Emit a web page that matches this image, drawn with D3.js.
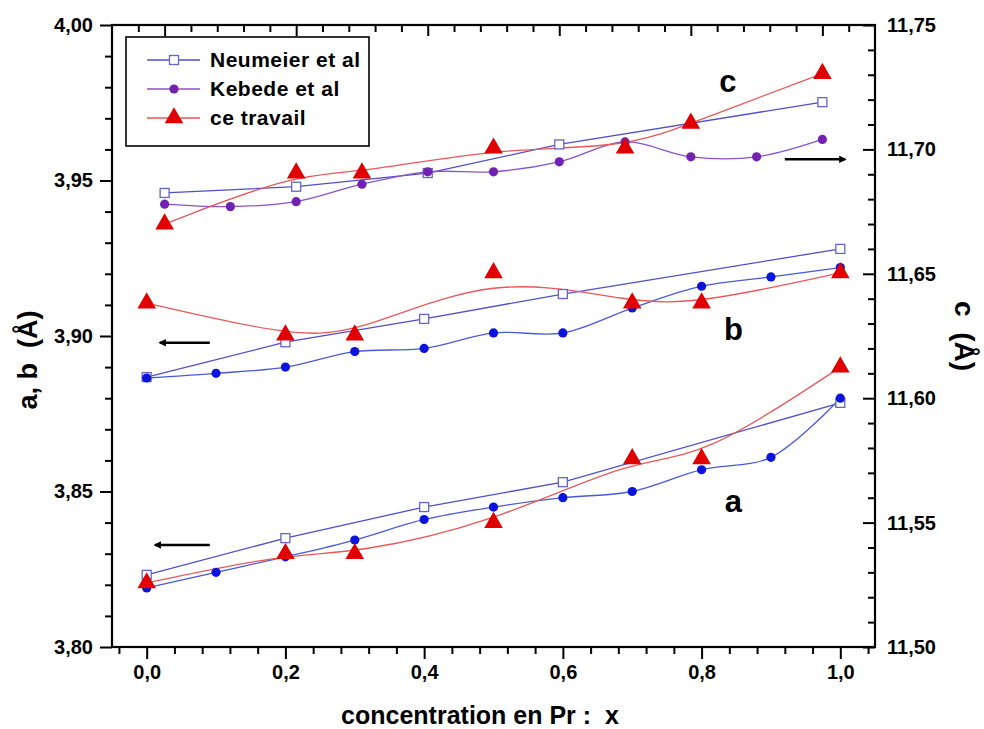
<!DOCTYPE html>
<html>
<head>
<meta charset="utf-8">
<script src="https://cdn.jsdelivr.net/npm/d3@7"></script>
<style>
    body { margin: 0; background: #fff; }
    svg { display: block; font-family: "Liberation Sans", Arial, sans-serif; font-weight: bold; }
    .title { white-space: pre; }
</style>
</head>
<body>
<div id="chart"></div>
<script>
// x values (concentration en Pr)
const xNeumeier = [0, 0.2, 0.4, 0.6, 1.0];
const xKebede = [0, 0.1, 0.2, 0.3, 0.4, 0.5, 0.6, 0.7, 0.8, 0.9, 1.0];
const xTravail = [0, 0.2, 0.3, 0.5, 0.7, 0.8, 1.0];

// a and b (left axis, A)
const aNeumeier = [3.8232, 3.835, 3.845, 3.853, 3.8785];
const bNeumeier = [3.8868, 3.898, 3.9055, 3.9135, 3.928];
const aKebede = [3.819, 3.824, 3.829, 3.8344, 3.841, 3.845, 3.848, 3.850, 3.857, 3.861, 3.880];
const bKebede = [3.8865, 3.888, 3.890, 3.895, 3.896, 3.901, 3.901, 3.909, 3.916, 3.919, 3.922];
const aTravail = [3.8206, 3.830, 3.830, 3.840, 3.8605, 3.8605, 3.890];
const bTravail = [3.9106, 3.9003, 3.9003, 3.9203, 3.9106, 3.9106, 3.9203];

// c (right axis, plotted against the top axis)
const cNeumeier = [11.6825, 11.685, 11.6905, 11.702, 11.719];
const cKebede = [11.678, 11.677, 11.679, 11.686, 11.691, 11.691, 11.695, 11.703, 11.697, 11.697, 11.704];
const cTravail = [11.670, 11.6905, 11.6905, 11.7005, 11.7005, 11.7105, 11.7305];

const seriesNames = ['Neumeier et al', 'Kebede et al', 'ce travail'];

document.addEventListener('DOMContentLoaded', () => {
    const fullWidth = 984
    const fullHeight = 729
    const marginLeft = 112
    const marginTop = 25
    const width = 763
    const height = 622

    const fmt = d3.formatLocale({decimal: ',', thousands: '.', grouping: [3], currency: ['', '']});

    const svg = d3.select('#chart')
        .append('svg')
        .attr('width', fullWidth)
        .attr('height', fullHeight);
    const g = svg.append('g')
        .attr('transform', `translate(${marginLeft}, ${marginTop})`);

    const x = d3.scaleLinear().domain([-0.05, 1.05]).range([0, width]);
    const xTop = d3.scaleLinear().domain([-0.08, 1.08]).range([0, width]);
    const yLeft = d3.scaleLinear().domain([3.80, 4.00]).range([height, 0]);
    const yRight = d3.scaleLinear().domain([11.50, 11.75]).range([height, 0]);

    const majorX = d3.range(0, 6).map(i => i * 0.2);
    const minorX = d3.range(-1, 27).map(i => +(i * 0.04).toFixed(2)).filter(v => Math.abs(v / 0.2 - Math.round(v / 0.2)) > 1e-6);
    const majorL = d3.range(0, 5).map(i => 3.80 + i * 0.05);
    const minorL = d3.range(0, 21).map(i => 3.80 + i * 0.01).filter((v, i) => i % 5 !== 0);
    const majorR = d3.range(0, 6).map(i => 11.50 + i * 0.05);
    const minorR = d3.range(0, 26).map(i => 11.50 + i * 0.01).filter((v, i) => i % 5 !== 0);

    // Axes
    const axisStyle = sel => {
        sel.attr('font-family', null);
        sel.select('.domain').remove();
        sel.selectAll('line').attr('stroke', '#000').attr('stroke-width', 2);
        sel.selectAll('text').attr('fill', '#000').style('font-size', '20px').style('font-weight', 'bold');
    };
    g.append('g').attr('transform', `translate(0, ${height})`)
        .call(d3.axisBottom(x).tickValues(majorX).tickSize(12).tickPadding(6).tickFormat(fmt.format('.1f')))
        .call(axisStyle);
    g.append('g').attr('transform', `translate(0, ${height})`)
        .call(d3.axisBottom(x).tickValues(minorX).tickSize(7).tickFormat(''))
        .call(axisStyle);
    g.append('g')
        .call(d3.axisTop(xTop).tickValues(majorX).tickSize(-11).tickFormat(''))
        .call(axisStyle);
    g.append('g')
        .call(d3.axisTop(xTop).tickValues(minorX).tickSize(-7).tickFormat(''))
        .call(axisStyle);
    g.append('g')
        .call(d3.axisLeft(yLeft).tickValues(majorL).tickSize(12).tickPadding(7).tickFormat(fmt.format('.2f')))
        .call(axisStyle);
    g.append('g')
        .call(d3.axisLeft(yLeft).tickValues(minorL).tickSize(7).tickFormat(''))
        .call(axisStyle);
    g.append('g').attr('transform', `translate(${width}, 0)`)
        .call(d3.axisRight(yRight).tickValues(majorR).tickSize(-12).tickPadding(12).tickFormat(fmt.format('.2f')))
        .call(axisStyle);
    g.append('g').attr('transform', `translate(${width}, 0)`)
        .call(d3.axisRight(yRight).tickValues(minorR).tickSize(-7).tickFormat(''))
        .call(axisStyle);

    // Frame
    g.append('rect')
        .attr('width', width)
        .attr('height', height)
        .attr('fill', 'none')
        .attr('stroke', '#000')
        .attr('stroke-width', 2.2);

    // Axis titles
    g.append('text')
        .attr('class', 'title')
        .attr('x', 368)
        .attr('y', height + 77)
        .attr('text-anchor', 'middle')
        .style('font-size', '25px')
        .text('concentration en Pr :  x');
    g.append('text')
        .attr('class', 'title')
        .attr('transform', `translate(-75, ${height / 2 + 24}) rotate(-90)`)
        .attr('text-anchor', 'middle')
        .style('font-size', '27px')
        .text('a, b  (Å)');
    g.append('text')
        .attr('class', 'title')
        .attr('transform', `translate(${width + 80}, ${height / 2}) rotate(90)`)
        .attr('text-anchor', 'middle')
        .style('font-size', '28px')
        .text('c  (Å)');

    // Series
    const colours = {
        neuLine: '#4f4fc8', neuMark: '#6464cc',
        kebLine: '#4a5ad6', kebMark: '#0a14dc',
        kebCLine: '#8a52c8', kebCMark: '#7222b0',
        travLine: '#e8585a', travMark: '#e00000'
    };

    const zip = (xs, ys) => xs.map((v, i) => [v, ys[i]]);
    const series = [
        {data: zip(xNeumeier, aNeumeier), sx: x, sy: yLeft, curve: d3.curveLinear, line: colours.neuLine, mark: colours.neuMark, shape: 'square'},
        {data: zip(xNeumeier, bNeumeier), sx: x, sy: yLeft, curve: d3.curveLinear, line: colours.neuLine, mark: colours.neuMark, shape: 'square'},
        {data: zip(xNeumeier, cNeumeier), sx: xTop, sy: yRight, curve: d3.curveLinear, line: colours.neuLine, mark: colours.neuMark, shape: 'square'},
        {data: zip(xKebede, aKebede), sx: x, sy: yLeft, curve: d3.curveCatmullRom, line: colours.kebLine, mark: colours.kebMark, shape: 'dot'},
        {data: zip(xKebede, bKebede), sx: x, sy: yLeft, curve: d3.curveCatmullRom, line: colours.kebLine, mark: colours.kebMark, shape: 'dot'},
        {data: zip(xKebede, cKebede), sx: xTop, sy: yRight, curve: d3.curveCatmullRom, line: colours.kebCLine, mark: colours.kebCMark, shape: 'dot'},
        {data: zip(xTravail, aTravail), sx: x, sy: yLeft, curve: d3.curveBasis, line: colours.travLine, mark: colours.travMark, shape: 'triangle'},
        {data: zip(xTravail, bTravail), sx: x, sy: yLeft, curve: d3.curveBasis, line: colours.travLine, mark: colours.travMark, shape: 'triangle'},
        {data: zip(xTravail, cTravail), sx: xTop, sy: yRight, curve: d3.curveBasis, line: colours.travLine, mark: colours.travMark, shape: 'triangle'}
    ];

    const lines = g.append('g');
    for (const s of series) {
        lines.append('path')
            .datum(s.data)
            .attr('fill', 'none')
            .attr('stroke', s.line)
            .attr('stroke-width', 1.3)
            .attr('d', d3.line().x(d => s.sx(d[0])).y(d => s.sy(d[1])).curve(s.curve));
    }

    function drawMarker(sel, shape, colour) {
        if (shape === 'square') {
            sel.append('rect').attr('x', -4.5).attr('y', -4.5).attr('width', 9).attr('height', 9)
                .attr('fill', '#fff').attr('stroke', colour).attr('stroke-width', 1.3);
        } else if (shape === 'dot') {
            sel.append('circle').attr('r', 4.6).attr('fill', colour);
        } else {
            sel.append('path').attr('d', d3.symbol(d3.symbolTriangle, 150)()).attr('fill', colour);
        }
    }

    const marks = g.append('g');
    for (const s of series) {
        marks.append('g')
            .selectAll('g')
            .data(s.data)
            .enter()
            .append('g')
            .attr('transform', d => `translate(${s.sx(d[0])}, ${s.sy(d[1])})`)
            .each(function () { drawMarker(d3.select(this), s.shape, s.mark); });
    }

    // Curve labels
    const labels = [['c', 0.838, yLeft(3.9817)], ['b', 0.846, yLeft(3.902)], ['a', 0.846, yLeft(3.8467)]];
    g.selectAll('.curveLabel')
        .data(labels)
        .enter()
        .append('text')
        .attr('class', 'curveLabel')
        .attr('x', d => x(d[1]))
        .attr('y', d => d[2])
        .attr('text-anchor', 'middle')
        .attr('dominant-baseline', 'central')
        .style('font-size', '31px')
        .text(d => d[0]);

    // Arrows showing which axis each group uses
    svg.append('defs').append('marker')
        .attr('id', 'head')
        .attr('viewBox', '0 0 10 10')
        .attr('refX', 8).attr('refY', 5)
        .attr('markerWidth', 4).attr('markerHeight', 3)
        .attr('orient', 'auto')
        .append('path').attr('d', 'M0,0 L10,5 L0,10 z').attr('fill', '#000');
    const arrows = [
        [x(0.091), yLeft(3.8978), x(0.019), yLeft(3.8978)],
        [x(0.091), yLeft(3.8328), x(0.012), yLeft(3.8328)],
        [x(0.92), yRight(11.696), x(1.007), yRight(11.696)]
    ];
    g.selectAll('.arrow')
        .data(arrows)
        .enter()
        .append('line')
        .attr('class', 'arrow')
        .attr('x1', d => d[0]).attr('y1', d => d[1])
        .attr('x2', d => d[2]).attr('y2', d => d[3])
        .attr('stroke', '#000')
        .attr('stroke-width', 2.5)
        .attr('marker-end', 'url(#head)');

    // Legend
    const legend = svg.append('g').attr('transform', 'translate(126, 37)');
    legend.append('rect')
        .attr('width', 243).attr('height', 109)
        .attr('fill', '#fff').attr('stroke', '#000').attr('stroke-width', 1.6);
    const legendItems = [
        {shape: 'square', line: colours.neuLine, mark: colours.neuMark},
        {shape: 'dot', line: colours.kebCLine, mark: colours.kebCMark},
        {shape: 'triangle', line: colours.travLine, mark: colours.travMark}
    ];
    const rows = legend.selectAll('.row')
        .data(legendItems)
        .enter()
        .append('g')
        .attr('class', 'row')
        .attr('transform', (d, i) => `translate(0, ${23 + i * 29})`);
    rows.append('line')
        .attr('x1', 21).attr('x2', 74)
        .attr('stroke', d => d.line).attr('stroke-width', 1.3);
    rows.each(function (d) {
        const m = d3.select(this).append('g').attr('transform', 'translate(48, 0)');
        drawMarker(m, d.shape, d.mark);
    });
    rows.append('text')
        .attr('x', 84)
        .attr('y', 7)
        .style('font-size', '21px')
        .style('letter-spacing', '0.5px')
        .text((d, i) => seriesNames[i]);
});
</script>
</body>
</html>
